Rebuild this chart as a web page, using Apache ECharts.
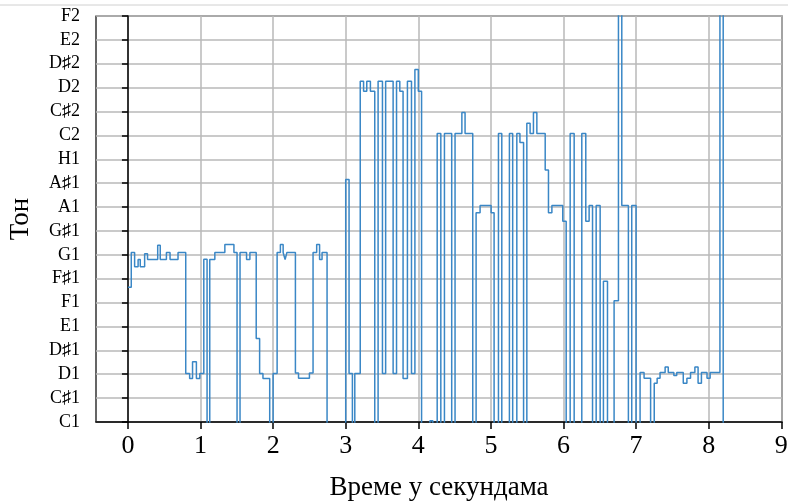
<!DOCTYPE html>
<html>
<head>
<meta charset="utf-8">
<script src="https://cdn.jsdelivr.net/npm/echarts@6/dist/echarts.min.js"></script>
<style>html,body{margin:0;padding:0;background:#fff}#c{width:788px;height:503px}</style>
</head>
<body>
<div id="c"></div>
<script>
// Note names, C1 = 0 ... F2 = 17 (semitones)
const noteLabels = ['C1','C♯1','D1','D♯1','E1','F1','F♯1','G1','G♯1','A1','A♯1','H1','C2','C♯2','D2','D♯2','E2','F2'];
const xTicks = [0,1,2,3,4,5,6,7,8,9];
// Pitch track: time in seconds, tone in semitones above C1 (-1 = no pitch, 19 = above range)
const times = [
  0.00,0.046,0.092,0.14,0.17,0.23,0.27,0.41,0.445,0.53,0.58,0.69,
  0.796,0.85,0.89,0.943,0.99,1.045,1.09,1.127,1.197,1.335,1.46,1.503,1.544,1.634,1.68,1.767,1.814,1.86,1.953,
  2.0,2.055,2.10,2.138,2.165,2.19,2.307,2.35,2.50,2.55,2.60,2.64,2.674,2.743,
  3.0,3.046,3.092,3.125,3.20,3.246,3.29,3.34,3.40,3.446,3.506,3.55,3.653,3.70,3.745,3.79,3.85,3.906,3.953,4.0,4.045,
  4.16,4.2,4.26,4.31,4.36,4.46,4.506,4.60,4.644,4.75,4.796,4.851,5.003,5.044,
  5.104,5.15,5.255,5.30,5.357,5.40,5.45,5.495,5.54,5.586,5.633,5.748,5.793,5.84,5.99,6.037,
  6.092,6.147,6.252,6.307,6.353,6.40,6.45,6.505,6.55,6.606,6.697,6.757,6.803,6.894,6.94,7.0,
  7.055,7.11,7.2,7.25,7.29,7.33,7.4,7.443,7.52,7.56,7.65,7.70,7.75,7.81,7.854,7.90,7.977,8.02,8.155,8.20,8.3
];
const tones = [
  5.64,7.1,6.5,6.8,6.5,7.05,6.8,7.4,6.8,7.1,6.8,7.1,
  2.03,1.82,2.52,1.82,2.03,6.81,-1,6.8,7.1,7.43,7.1,-1,7.1,6.8,7.1,3.5,2.03,1.82,-1,
  2.03,7.1,7.43,7.1,6.8,7.1,2.05,1.83,2.05,7.1,7.43,6.8,7.1,-1,
  10.15,2.03,-1,2.03,14.27,13.85,14.27,13.85,-1,14.27,2.03,14.27,2.03,14.27,13.85,1.82,14.27,2.03,14.76,13.85,-1,
  0.05,-1,12.08,-1,12.08,-1,12.08,12.96,12.08,-1,8.76,9.07,8.76,-1,
  12.08,-1,12.08,-1,12.08,11.7,-1,12.51,12.08,12.96,12.08,10.55,8.76,9.07,8.41,-1,
  12.08,-1,12.08,8.41,9.07,-1,9.07,-1,5.89,-1,5.08,19,9.07,-1,9.07,-1,
  2.07,1.83,-1,1.62,1.83,2.07,2.3,2.07,1.95,2.07,1.62,1.83,2.07,2.3,1.62,2.07,1.83,2.07,19,-1,-1
];

const data = times.map((t, i) => [t, tones[i]]);
const font = 'Liberation Serif';
const chart = echarts.init(document.getElementById('c'), null, {renderer: 'canvas'});
chart.setOption({
  animation: false,
  backgroundColor: '#fff',
  grid: {left: 96, right: 6, top: 16, bottom: 81, show: true, borderColor: '#000', borderWidth: 1.2,
         backgroundColor: 'transparent', containLabel: false, outerBoundsMode: 'none'},
  graphic: [{type: 'line', shape: {x1: 0, y1: 5, x2: 788, y2: 5}, style: {stroke: '#d0d0d0', lineWidth: 1}}],
  xAxis: {
    type: 'value', min: -0.44, max: 9.01,
    name: 'Време у секундама', nameLocation: 'middle', nameGap: 52,
    nameTextStyle: {fontFamily: font, fontSize: 27, color: '#000'},
    axisLine: {show: true, lineStyle: {color: '#000', width: 1.5}},
    axisTick: {show: true, length: 7, lineStyle: {color: '#000', width: 1.5}, customValues: xTicks},
    axisLabel: {fontFamily: font, fontSize: 26, color: '#000', margin: 11, customValues: xTicks},
    splitLine: {show: true, lineStyle: {color: '#b8b8b8', width: 1.5}}
  },
  yAxis: {
    type: 'value', min: 0, max: 17, interval: 1,
    name: 'Тон', nameLocation: 'middle', nameGap: 62,
    nameTextStyle: {fontFamily: font, fontSize: 27, color: '#000'},
    axisLine: {show: true, lineStyle: {color: '#000', width: 1.5}},
    axisTick: {show: true, length: 6, lineStyle: {color: '#000', width: 1.5}},
    axisLabel: {fontFamily: font, fontSize: 18, color: '#000', margin: 16, formatter: v => noteLabels[Math.round(v)] || ''},
    splitLine: {show: true, lineStyle: {color: '#b8b8b8', width: 1.5}}
  },
  series: [{
    type: 'line', step: 'end', data: data, clip: true,
    showSymbol: false, symbol: 'none',
    lineStyle: {color: '#3a87c6', width: 1.5}
  }]
});
</script>
</body>
</html>
